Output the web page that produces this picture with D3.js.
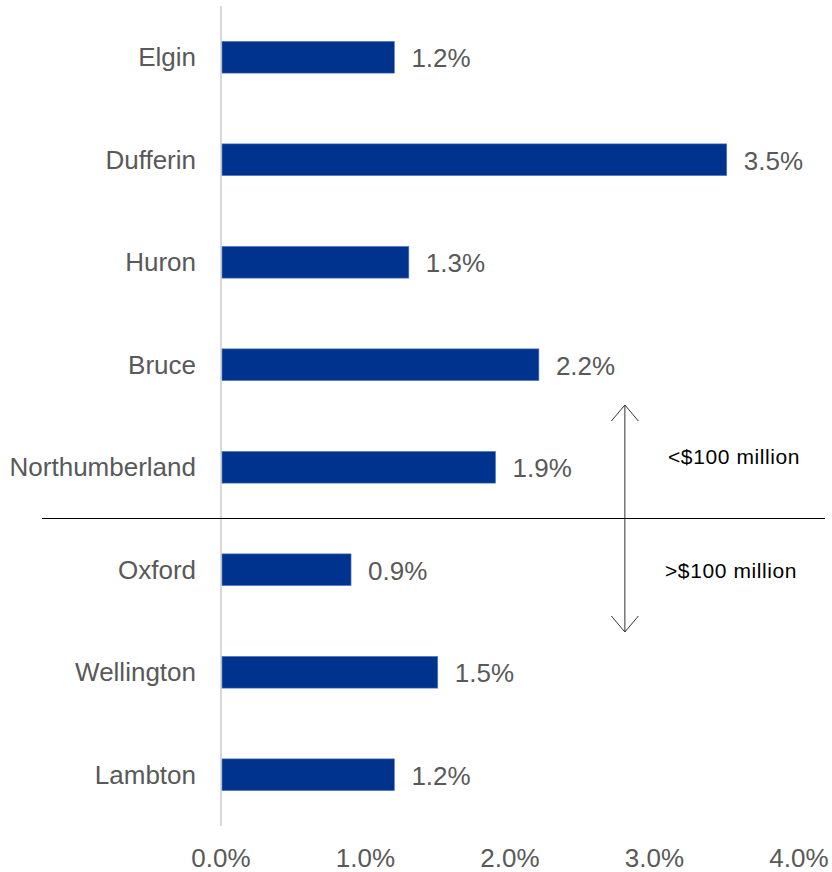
<!DOCTYPE html>
<html>
<head>
<meta charset="utf-8">
<script src="https://cdn.jsdelivr.net/npm/d3@7"></script>
<style>
  html, body { margin: 0; padding: 0; background: #fff; }
  svg { display: block; font-family: "Liberation Sans", Arial, sans-serif; }
</style>
</head>
<body>
<svg id="chart" width="832" height="872"></svg>
<script>
// Counties, top to bottom
const counties = ["Elgin", "Dufferin", "Huron", "Bruce", "Northumberland", "Oxford", "Wellington", "Lambton"];
// Share (%) per county
const shares = [1.2, 3.5, 1.3, 2.2, 1.9, 0.9, 1.5, 1.2];
// Axis ticks (%)
const ticks = [0, 1, 2, 3, 4];
// Group annotations
const groupLabels = ["<$100 million", ">$100 million"];

const svg = d3.select("#chart");
const x = d3.scaleLinear().domain([0, 4]).range([221, 799]);
const y = d3.scaleBand().domain(counties).range([6, 826]).paddingInner(0.69).paddingOuter(0.345);

const grey = "#595959";
const fs = 26;

// vertical zero axis
svg.append("line")
  .attr("x1", x(0)).attr("x2", x(0))
  .attr("y1", 6).attr("y2", 826)
  .attr("stroke", "#d9d9d9").attr("stroke-width", 2);

// bars
svg.append("g").selectAll("rect")
  .data(counties)
  .join("rect")
  .attr("x", x(0) + 1)
  .attr("y", d => y(d))
  .attr("width", (d, i) => x(shares[i]) - x(0) - 1)
  .attr("height", y.bandwidth())
  .attr("fill", "#00338d")
  .attr("stroke", "#5b7fc0")
  .attr("stroke-width", 0.6);

// value labels
svg.append("g").selectAll("text")
  .data(counties)
  .join("text")
  .attr("x", (d, i) => x(shares[i]) + 17)
  .attr("y", d => y(d) + y.bandwidth() / 2 + 10)
  .attr("font-size", fs)
  .attr("fill", grey)
  .text((d, i) => shares[i].toFixed(1) + "%");

// category labels
svg.append("g").selectAll("text")
  .data(counties)
  .join("text")
  .attr("x", 196)
  .attr("y", d => y(d) + y.bandwidth() / 2 + 9)
  .attr("text-anchor", "end")
  .attr("font-size", fs)
  .attr("fill", grey)
  .text(d => d);

// x-axis tick labels
svg.append("g").selectAll("text")
  .data(ticks)
  .join("text")
  .attr("x", d => x(d))
  .attr("y", 867)
  .attr("text-anchor", "middle")
  .attr("font-size", fs)
  .attr("fill", grey)
  .text(d => d.toFixed(1) + "%");

// divider between the two size groups
const divY = (y("Northumberland") + y.bandwidth() + y("Oxford")) / 2;
svg.append("line")
  .attr("x1", 42).attr("x2", 825)
  .attr("y1", divY).attr("y2", divY)
  .attr("stroke", "#000").attr("stroke-width", 1.2);

// double-headed arrow
const ax = x(2.795);
const aTop = 405, aBot = 632;
const arrow = svg.append("g").attr("stroke", "#333").attr("stroke-width", 1).attr("fill", "none");
arrow.append("line").attr("x1", ax).attr("x2", ax).attr("y1", aTop).attr("y2", aBot);
arrow.append("path").attr("d", `M${ax - 13.5},${aTop + 16} L${ax},${aTop} L${ax + 13.5},${aTop + 16}`);
arrow.append("path").attr("d", `M${ax - 13.5},${aBot - 16} L${ax},${aBot} L${ax + 13.5},${aBot - 16}`);

// group annotations
svg.append("text")
  .attr("x", 668).attr("y", 464)
  .attr("font-size", 21).attr("letter-spacing", 0.6).attr("fill", "#000")
  .text(groupLabels[0]);
svg.append("text")
  .attr("x", 665).attr("y", 578)
  .attr("font-size", 21).attr("letter-spacing", 0.6).attr("fill", "#000")
  .text(groupLabels[1]);
</script>
</body>
</html>
